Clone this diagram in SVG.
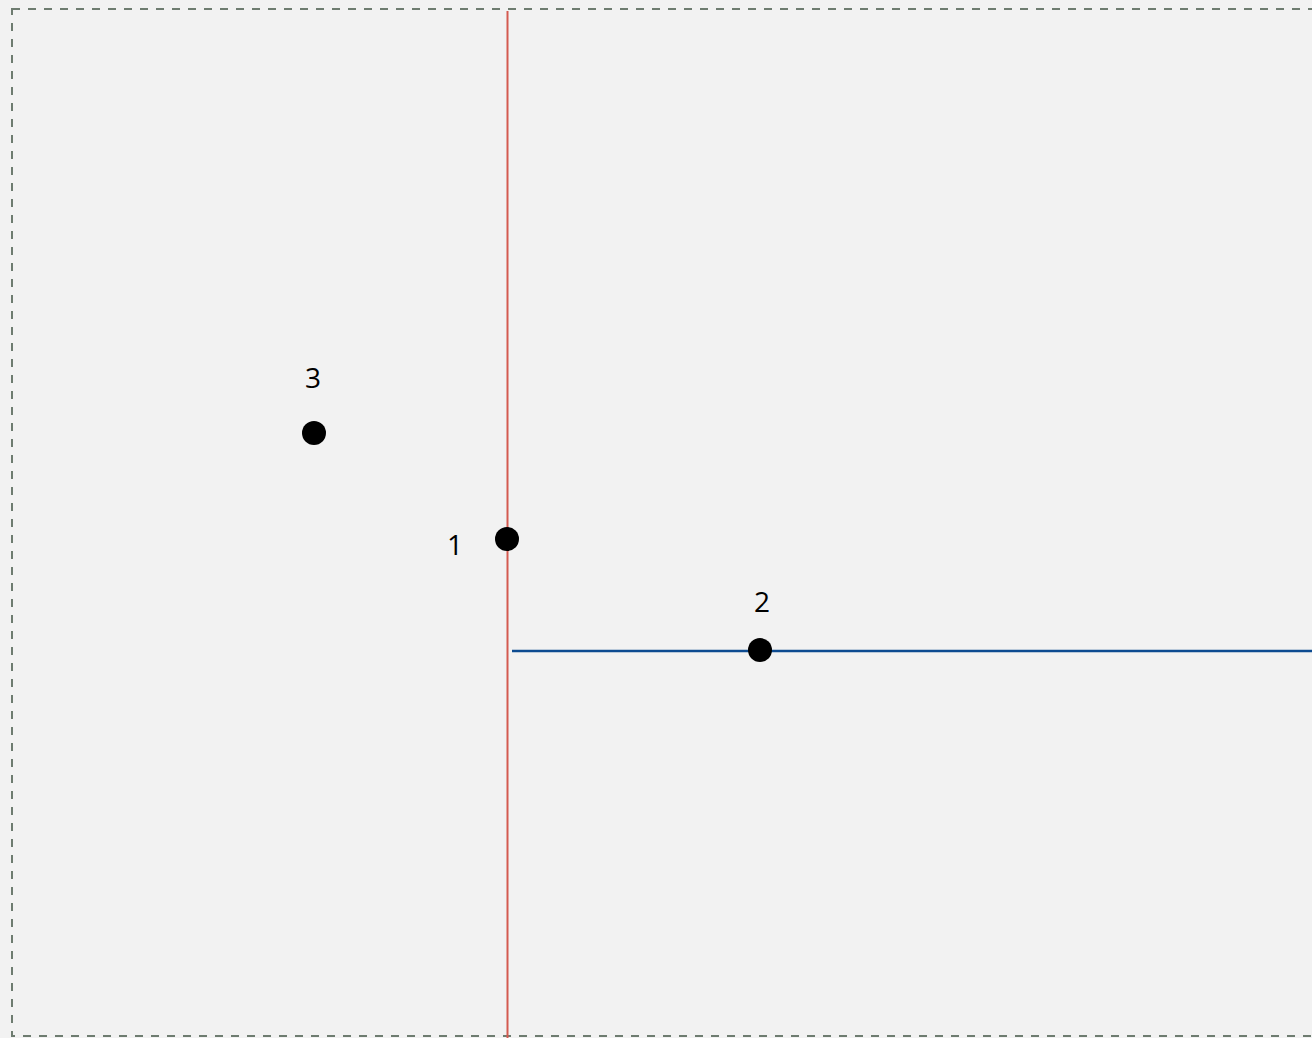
<svg xmlns="http://www.w3.org/2000/svg" width="1312" height="1038" viewBox="0 0 1312 1038">
<style>
.lbl{font-family:"Open Sans","Noto Sans",sans-serif;font-size:28px;fill:#000;text-anchor:middle}
.dot{fill:#000}
</style>
<rect x="0" y="0" width="1312" height="1038" fill="#f2f2f2"/>
<rect x="12" y="9" width="1320" height="1027" fill="none" stroke="#6e7c70" stroke-width="2" stroke-dasharray="8 8"/>
<g id="connectors">
<line x1="507.5" y1="11" x2="507.5" y2="1038" stroke="#d45a50" stroke-width="2"/>
<line x1="512" y1="651" x2="1312" y2="651" stroke="#0d4b91" stroke-width="2.5"/>
</g>
<g id="node1"><circle class="dot" cx="507" cy="539" r="12"/><text class="lbl" x="455" y="555">1</text></g>
<g id="node2"><circle class="dot" cx="760" cy="650" r="12"/><text class="lbl" x="762" y="612">2</text></g>
<g id="node3"><circle class="dot" cx="314" cy="433" r="12"/><text class="lbl" x="313" y="388">3</text></g>
</svg>
